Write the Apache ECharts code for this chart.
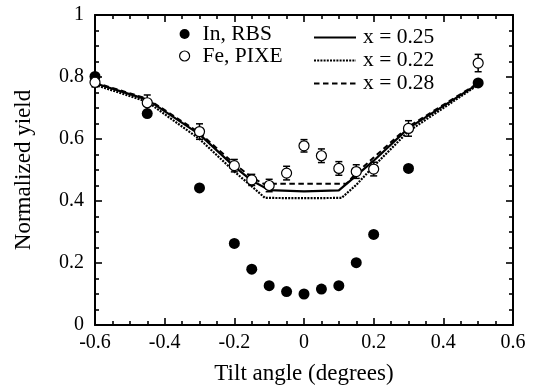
<!DOCTYPE html>
<html>
<head>
<meta charset="utf-8">
<script src="https://cdn.jsdelivr.net/npm/echarts@6/dist/echarts.min.js"></script>
<style>html,body{margin:0;padding:0;background:#fff}#c{width:538px;height:390px}</style>
</head>
<body>
<div id="c"></div>
<script>
// Data
const angles = [-0.6, -0.45, -0.3, -0.2, -0.15, -0.1, -0.05, 0, 0.05, 0.1, 0.15, 0.2, 0.3, 0.5];
const inRBS  = [0.802, 0.682, 0.442, 0.263, 0.180, 0.127, 0.108, 0.100, 0.116, 0.127, 0.201, 0.292, 0.505, 0.781];
const fePIXE = [0.783, 0.717, 0.624, 0.514, 0.468, 0.450, 0.490, 0.578, 0.546, 0.505, 0.495, 0.503, 0.634, 0.845];
const feErr  = [0.015, 0.025, 0.025, 0.02, 0.018, 0.02, 0.022, 0.02, 0.022, 0.022, 0.022, 0.022, 0.025, 0.028];

const fitX   = [-0.6, -0.45, -0.3, -0.2, -0.15, -0.1, 0, 0.1, 0.15, 0.2, 0.3, 0.5];
const fit025 = [0.780, 0.727, 0.615, 0.511, 0.466, 0.435, 0.431, 0.434, 0.482, 0.530, 0.635, 0.778];
const fit022X = [-0.6, -0.45, -0.3, -0.2, -0.15, -0.112, 0, 0.108, 0.15, 0.2, 0.3, 0.5];
const fit022 = [0.775, 0.720, 0.600, 0.495, 0.447, 0.410, 0.409, 0.410, 0.452, 0.512, 0.625, 0.775];
const fit028X = [-0.6, -0.45, -0.3, -0.2, -0.15, -0.117, 0, 0.122, 0.15, 0.2, 0.3, 0.5];
const fit028 = [0.782, 0.730, 0.620, 0.520, 0.476, 0.456, 0.456, 0.456, 0.490, 0.540, 0.640, 0.780];

const xTicks = [-0.6, 0.6, 0.2];
const yTicks = [0, 1, 0.2];

const FONT = 'Liberation Serif';
const zip = (xs, ys) => xs.map((x, i) => [x, ys[i]]);

const axisCommon = () => ({
  axisLine: {onZero: false, lineStyle: {color: '#000', width: 2}},
  axisTick: {inside: true, length: 7, lineStyle: {color: '#000', width: 1.6}},
  minorTick: {show: true, splitNumber: 4, length: 4, lineStyle: {color: '#000', width: 1.6}},
  splitLine: {show: false},
  minorSplitLine: {show: false}
});

const chart = echarts.init(document.getElementById('c'), null, {renderer: 'canvas'});
chart.setOption({
  animation: false,
  backgroundColor: '#fff',
  textStyle: {fontFamily: FONT, color: '#000'},
  grid: {left: 95, right: 25, top: 15, bottom: 63},
  xAxis: [
    Object.assign({type: 'value', min: xTicks[0], max: xTicks[1], interval: xTicks[2],
      name: 'Tilt angle (degrees)', nameLocation: 'middle', nameGap: 37,
      nameTextStyle: {fontFamily: FONT, fontSize: 23, color: '#000'},
      axisLabel: {fontFamily: FONT, fontSize: 20, color: '#000', margin: 8}}, axisCommon()),
    Object.assign({type: 'value', position: 'top', min: xTicks[0], max: xTicks[1], interval: xTicks[2],
      axisLabel: {show: false}}, axisCommon())
  ],
  yAxis: [
    Object.assign({type: 'value', min: yTicks[0], max: yTicks[1], interval: yTicks[2],
      name: 'Normalized yield', nameLocation: 'middle', nameGap: 60,
      nameTextStyle: {fontFamily: FONT, fontSize: 23, color: '#000'},
      axisLabel: {fontFamily: FONT, fontSize: 20, color: '#000', margin: 11}}, axisCommon()),
    Object.assign({type: 'value', position: 'right', min: yTicks[0], max: yTicks[1], interval: yTicks[2],
      axisLabel: {show: false}}, axisCommon())
  ],
  legend: [
    {
      orient: 'vertical', left: 174, top: 18, itemWidth: 10, itemHeight: 10, itemGap: 0,
      data: [
        {name: 'In, RBS', icon: 'circle', itemStyle: {color: '#000', opacity: 1}},
        {name: 'Fe, PIXE', icon: 'circle', itemStyle: {color: '#fff', borderColor: '#000', borderWidth: 1.2, opacity: 1}}
      ],
      textStyle: {fontFamily: FONT, fontSize: 21.5, color: '#000', lineHeight: 22, padding: [0, 0, 0, 8]}
    },
    {
      orient: 'vertical', left: 308, top: 21, itemWidth: 42, itemHeight: 12, itemGap: 0,
      itemStyle: {opacity: 0},
      data: ['x = 0.25', 'x = 0.22', 'x = 0.28'],
      textStyle: {fontFamily: FONT, fontSize: 21.5, color: '#000', lineHeight: 23, padding: [0, 0, 0, 2]}
    }
  ],
  series: [
    {name: 'x = 0.25', type: 'line', data: zip(fitX, fit025), symbol: 'none', z: 2,
      lineStyle: {color: '#000', width: 2.2, type: 'solid'}, itemStyle: {color: '#000'}},
    {name: 'x = 0.22', type: 'line', data: zip(fit022X, fit022), symbol: 'none', z: 2,
      lineStyle: {color: '#000', width: 2.2, type: [2, 1.2]}, itemStyle: {color: '#000'}},
    {name: 'x = 0.28', type: 'line', data: zip(fit028X, fit028), symbol: 'none', z: 2,
      lineStyle: {color: '#000', width: 2, type: [5.5, 3.5]}, itemStyle: {color: '#000'}},
    {name: 'Fe err', type: 'custom', z: 3,
      data: angles.map((a, i) => [a, fePIXE[i] - feErr[i], fePIXE[i] + feErr[i]]),
      renderItem: function (params, api) {
        const lo = api.coord([api.value(0), api.value(1)]);
        const hi = api.coord([api.value(0), api.value(2)]);
        const w = 3.5;
        const st = {stroke: '#000', lineWidth: 1.5};
        return {type: 'group', children: [
          {type: 'line', shape: {x1: lo[0], y1: lo[1], x2: hi[0], y2: hi[1]}, style: st},
          {type: 'line', shape: {x1: lo[0] - w, y1: lo[1], x2: lo[0] + w, y2: lo[1]}, style: st},
          {type: 'line', shape: {x1: hi[0] - w, y1: hi[1], x2: hi[0] + w, y2: hi[1]}, style: st}
        ]};
      }},
    {name: 'In, RBS', type: 'scatter', data: zip(angles, inRBS), symbol: 'circle', symbolSize: 11, z: 4,
      itemStyle: {color: '#000', opacity: 1}},
    {name: 'Fe, PIXE', type: 'scatter', data: zip(angles, fePIXE), symbol: 'circle', symbolSize: 10, z: 5,
      itemStyle: {color: '#fff', borderColor: '#000', borderWidth: 1.2, opacity: 1}}
  ]
});
</script>
</body>
</html>
